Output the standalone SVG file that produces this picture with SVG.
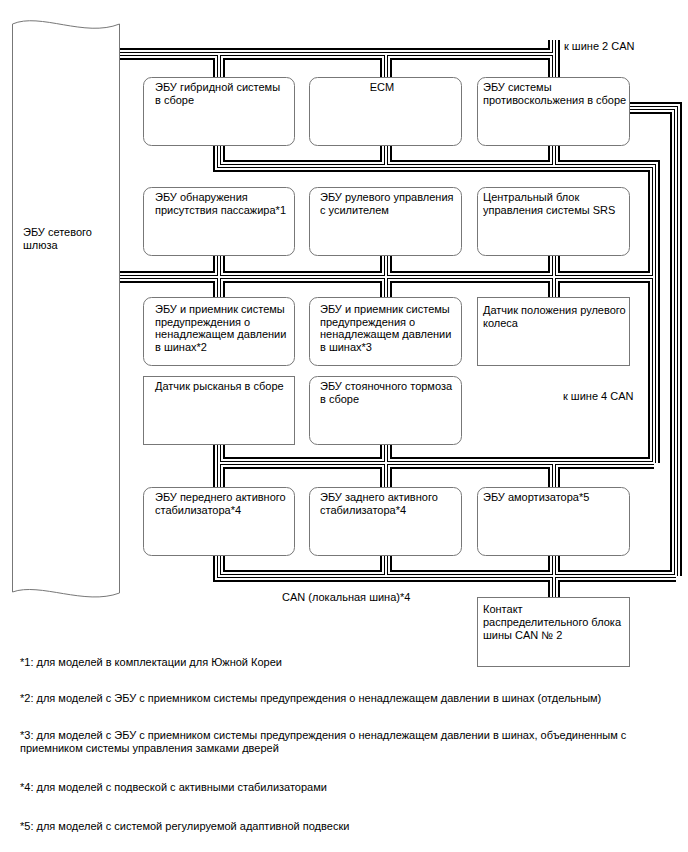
<svg xmlns="http://www.w3.org/2000/svg" xmlns:xlink="http://www.w3.org/1999/xlink" width="688" height="852" viewBox="0 0 688 852">
<style>
text{font-family:"Liberation Sans",Arial,sans-serif;font-size:11px;fill:#000}
.box{fill:#fff;stroke:#777;stroke-width:1}
.bus{fill:none;stroke-linejoin:miter;stroke-linecap:butt}
</style>
<defs>
<g id="buslines" class="bus">
<path d="M120,54 H554 V40"/>
<path d="M219,54 V78 M386,54 V78 M554,54 V78"/>
<path d="M219,145 V166 H654 V463"/>
<path d="M386,145 V166 M554,145 V166"/>
<path d="M630,108 H676 V576"/>
<path d="M120,277 H654"/>
<path d="M219,255 V297 M386,255 V297 M554,255 V297"/>
<path d="M219,445 V487 M386,445 V487"/>
<path d="M219,463 H654 M554,463 V487"/>
<path d="M219,555 V576 H676"/>
<path d="M386,555 V576 M554,555 V597"/>
</g>
</defs>
<g id="connectors">
<use xlink:href="#buslines" stroke="#000" stroke-width="12"/>
<use xlink:href="#buslines" stroke="#fff" stroke-width="8"/>
<use xlink:href="#buslines" stroke="#000" stroke-width="4"/>
<use xlink:href="#buslines" stroke="#fff" stroke-width="2"/>
</g>
<g id="gateway">
<path class="box" d="M12.5,24 C40,12 85,38 119.5,24 V593 C85,606 40,582 12.5,592 Z"/>
<text x="23" y="236">ЭБУ сетевого</text>
<text x="23" y="249">шлюза</text>
</g>
<g id="hybrid"><rect class="box" x="143.5" y="77.5" width="151" height="68" rx="8"/>
<text x="155" y="91">ЭБУ гибридной системы</text><text x="155" y="104">в сборе</text></g>
<g id="ecm"><rect class="box" x="309.5" y="77.5" width="152" height="68" rx="8"/>
<text x="382" y="91" text-anchor="middle">ECM</text></g>
<g id="abs"><rect class="box" x="477.5" y="77.5" width="152" height="68" rx="8"/>
<text x="483" y="91">ЭБУ системы</text><text x="483" y="104">противоскольжения в сборе</text></g>
<g id="occupant"><rect class="box" x="143.5" y="187.5" width="151" height="68" rx="8"/>
<text x="155" y="201">ЭБУ обнаружения</text><text x="155" y="214">присутствия пассажира*1</text></g>
<g id="eps"><rect class="box" x="309.5" y="187.5" width="152" height="68" rx="8"/>
<text x="320" y="201">ЭБУ рулевого управления</text><text x="320" y="214">с усилителем</text></g>
<g id="srs"><rect class="box" x="477.5" y="187.5" width="152" height="68" rx="8"/>
<text x="483" y="201">Центральный блок</text><text x="483" y="214">управления системы SRS</text></g>
<g id="tpms2"><rect class="box" x="143.5" y="297.5" width="151" height="68" rx="8"/>
<text x="155" y="313">ЭБУ и приемник системы</text><text x="155" y="325.5">предупреждения о</text><text x="155" y="338">ненадлежащем давлении</text><text x="155" y="350.5">в шинах*2</text></g>
<g id="tpms3"><rect class="box" x="309.5" y="297.5" width="152" height="68" rx="8"/>
<text x="320" y="313">ЭБУ и приемник системы</text><text x="320" y="325.5">предупреждения о</text><text x="320" y="338">ненадлежащем давлении</text><text x="320" y="350.5">в шинах*3</text></g>
<g id="steer-sensor"><rect class="box" x="477.5" y="297.5" width="152" height="68"/>
<text x="483" y="314">Датчик положения рулевого</text><text x="483" y="326.5">колеса</text></g>
<g id="yaw"><rect class="box" x="143.5" y="376.5" width="151" height="68"/>
<text x="155" y="390">Датчик рысканья в сборе</text></g>
<g id="parking"><rect class="box" x="309.5" y="376.5" width="152" height="68" rx="8"/>
<text x="320" y="390">ЭБУ стояночного тормоза</text><text x="320" y="403">в сборе</text></g>
<g id="stab-front"><rect class="box" x="143.5" y="487.5" width="151" height="68" rx="8"/>
<text x="155" y="501">ЭБУ переднего активного</text><text x="155" y="514">стабилизатора*4</text></g>
<g id="stab-rear"><rect class="box" x="309.5" y="487.5" width="152" height="68" rx="8"/>
<text x="320" y="501">ЭБУ заднего активного</text><text x="320" y="514">стабилизатора*4</text></g>
<g id="absorber"><rect class="box" x="477.5" y="487.5" width="152" height="68" rx="8"/>
<text x="483" y="501">ЭБУ амортизатора*5</text></g>
<g id="jc"><rect class="box" x="477.5" y="597.5" width="152" height="69"/>
<text x="483" y="613">Контакт</text><text x="483" y="626">распределительного блока</text><text x="483" y="638.5">шины CAN № 2</text></g>
<g id="labels">
<text x="564" y="50">к шине 2 CAN</text>
<text x="563" y="400">к шине 4 CAN</text>
<text x="282" y="601">CAN (локальная шина)*4</text>
</g>
<g id="notes">
<text x="20" y="666">*1: для моделей в комплектации для Южной Кореи</text>
<text x="20" y="702">*2: для моделей с ЭБУ с приемником системы предупреждения о ненадлежащем давлении в шинах (отдельным)</text>
<text x="20" y="739">*3: для моделей с ЭБУ с приемником системы предупреждения о ненадлежащем давлении в шинах, объединенным с</text>
<text x="20" y="752">приемником системы управления замками дверей</text>
<text x="20" y="791">*4: для моделей с подвеской с активными стабилизаторами</text>
<text x="20" y="830">*5: для моделей с системой регулируемой адаптивной подвески</text>
</g>
</svg>
